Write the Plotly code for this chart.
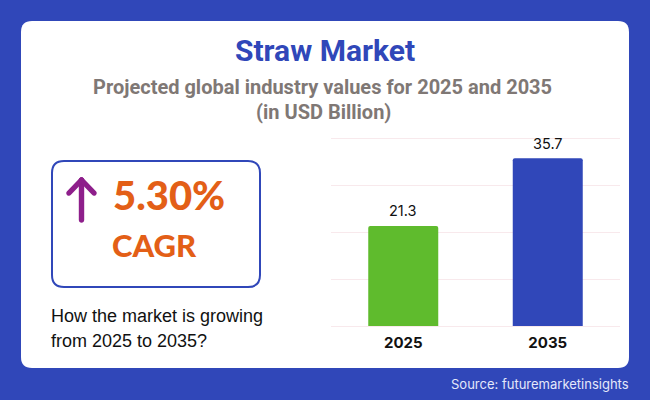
import plotly.graph_objects as go

years = ["2025", "2035"]
values = [21.3, 35.7]
bar_colors = ["#5FBB2D", "#3047B9"]
y_ticks = [0, 10, 20, 30, 40]
y_max = 41.064

W, H = 650, 400
LEFT, RIGHT, TOP, BOTTOM = 331, 620, 133, 326
BLUE = "#3047B9"
PURPLE = "#8E1F8B"
ORANGE = "#E35F17"
GREY = "#7F7875"
GRID = "#F8E9EC"


def px(x):
    return (x - LEFT) / (RIGHT - LEFT)


def py(y):
    return (BOTTOM - y) / (BOTTOM - TOP)


def rounded_rect(x0, y0, x1, y1, r):
    """Путь прямоугольника со скруглёнными углами, координаты в пикселях страницы"""
    pts = [
        ("M", x0 + r, y0), ("L", x1 - r, y0), ("Q", x1, y0, x1, y0 + r),
        ("L", x1, y1 - r), ("Q", x1, y1, x1 - r, y1), ("L", x0 + r, y1),
        ("Q", x0, y1, x0, y1 - r), ("L", x0, y0 + r), ("Q", x0, y0, x0 + r, y0),
    ]
    parts = []
    for p in pts:
        coords = [f"{px(p[i]):.5f},{py(p[i + 1]):.5f}" for i in range(1, len(p), 2)]
        parts.append(p[0] + " " + " ".join(coords))
    return " ".join(parts) + " Z"


def capsule(x0, y0, x1, y1, w):
    """Линия с круглыми концами как залитый контур"""
    dx, dy = x1 - x0, y1 - y0
    n = (dx ** 2 + dy ** 2) ** 0.5
    ux, uy = dx / n * w / 2, dy / n * w / 2
    nx, ny = -uy, ux
    a = (x0 + nx, y0 + ny)
    b = (x1 + nx, y1 + ny)
    c = (x1 - nx, y1 - ny)
    d = (x0 - nx, y0 - ny)

    def s(x, y):
        return f"{px(x):.5f},{py(y):.5f}"

    return (
        f"M {s(*a)} L {s(*b)} "
        f"C {s(b[0] + ux * 1.33, b[1] + uy * 1.33)} {s(c[0] + ux * 1.33, c[1] + uy * 1.33)} {s(*c)} "
        f"L {s(*d)} "
        f"C {s(d[0] - ux * 1.33, d[1] - uy * 1.33)} {s(a[0] - ux * 1.33, a[1] - uy * 1.33)} {s(*a)} Z"
    )


def label(x, y, text, size, color, family, bold=False, xanchor="center", weight=None):
    font = dict(size=size, color=color, family=family)
    if weight:
        font["weight"] = weight
    return dict(
        xref="paper", yref="paper", x=px(x), y=py(y),
        xanchor=xanchor, yanchor="middle", showarrow=False, align=xanchor,
        text=f"<b>{text}</b>" if bold else text,
        font=font,
    )


fig = go.Figure(go.Bar(
    x=years, y=values,
    marker=dict(color=bar_colors, line=dict(width=0)),
))

shapes = [
    dict(type="path", xref="paper", yref="paper", layer="below",
         path=rounded_rect(21, 21, 629, 368, 11),
         fillcolor="white", line=dict(width=0)),
    dict(type="path", xref="paper", yref="paper", layer="below",
         path=rounded_rect(52, 161, 260, 287, 12),
         fillcolor="white", line=dict(color=BLUE, width=2)),
]
for seg in [(81.5, 180, 81.5, 220), (81.5, 180, 69, 193), (81.5, 180, 94, 193)]:
    shapes.append(dict(type="path", xref="paper", yref="paper",
                       path=capsule(*seg, 5.4), fillcolor=PURPLE, line=dict(width=0)))

annotations = [
    label(325, 50, "Straw Market", 30, BLUE, "Roboto", bold=True),
    label(322.5, 87, "Projected global industry values for 2025 and 2035", 20, GREY, "Roboto", bold=True),
    label(323, 112, "(in USD Billion)", 20, GREY, "Roboto", bold=True),
    label(111, 195, "5.30%", 40, ORANGE, "Lato", xanchor="left", weight=900),
    label(110, 245, "CAGR", 31, ORANGE, "Lato", xanchor="left", weight=900),
    label(49, 316, "How the market is growing", 18, "#111111", "Liberation Sans", xanchor="left"),
    label(49, 341, "from 2025 to 2035?", 18, "#111111", "Liberation Sans", xanchor="left"),
    label(631, 384, "Source: futuremarketinsights", 13, "#E4E8FA", "Inter", xanchor="right"),
]
# подписи значений над столбцами
for i, value in enumerate(values):
    annotations.append(dict(
        xref="x", yref="y", x=i, y=value, yshift=15,
        yanchor="middle", showarrow=False, text=str(value),
        font=dict(size=14.5, color="#111111", family="Inter"),
    ))

fig.update_layout(
    width=W, height=H,
    margin=dict(l=LEFT, r=W - RIGHT, t=TOP, b=H - BOTTOM, pad=0),
    paper_bgcolor=BLUE,
    plot_bgcolor="rgba(0,0,0,0)",
    showlegend=False,
    bargap=0.5156,
    barcornerradius=2,
    shapes=shapes,
    annotations=annotations,
    xaxis=dict(type="category", categoryorder="array", categoryarray=years, range=[-0.5, 1.5],
               showgrid=False, showline=False, zeroline=False, ticks="",
               ticklabelstandoff=6,
               tickfont=dict(size=15, color="#111111", family="Inter", weight="bold")),
    yaxis=dict(range=[0, y_max], tickvals=y_ticks, showticklabels=False, ticks="",
               gridcolor=GRID, gridwidth=1, zeroline=True, zerolinecolor=GRID, zerolinewidth=1,
               showline=False),
)

fig.write_html("out.html", config=dict(displayModeBar=False),
               post_script="document.body.style.margin='0';")
